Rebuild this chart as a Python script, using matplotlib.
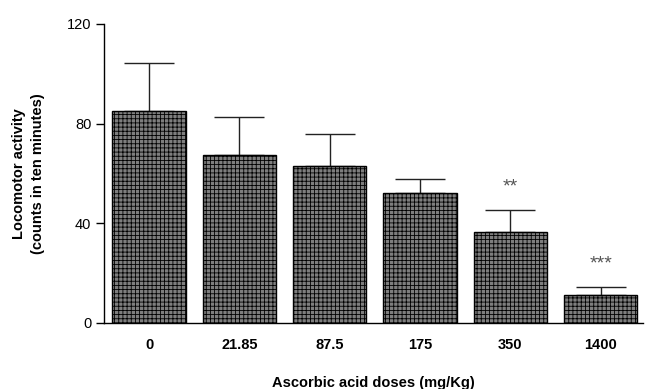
import matplotlib.pyplot as plt

doses = ['0', '21.85', '87.5', '175', '350', '1400']
activity = [85, 67.2, 62.9, 52.2, 36.3, 11]
sem = [19.4, 15.4, 12.8, 5.5, 8.8, 3.2]
stars = ['', '', '', '', '**', '***']


def main():
    plt.rcParams['font.family'] = ['Liberation Sans', 'DejaVu Sans']
    plt.rcParams['hatch.color'] = '#444444'
    plt.rcParams['hatch.linewidth'] = 0.6

    fig = plt.figure(figsize=(6.45, 3.89), dpi=100)
    ax = fig.add_axes([0.161, 0.1704, 0.836, 0.768])

    x = list(range(len(doses)))
    ax.bar(x, activity, width=0.81, color='#7e7e7e', edgecolor='black',
           linewidth=1.0, hatch='++++', zorder=2)
    ax.errorbar(x, activity, yerr=[[0] * len(sem), sem], fmt='none',
                ecolor='#222222', elinewidth=1.0, capsize=18, capthick=1.0, zorder=1)

    for xi, v, e, s in zip(x, activity, sem, stars):
        if s:
            ax.text(xi, v + e + 9.5, s, ha='center', va='center', fontsize=14,
                    color='#555555')

    ax.set_xlim(-0.5, 5.47)
    ax.set_ylim(0, 120)
    ax.set_yticks([0, 40, 80, 120])
    ax.set_xticks(x)
    ax.set_xticklabels(doses, fontweight='bold')
    ax.tick_params(axis='x', length=0, pad=11, labelsize=10.5)
    ax.tick_params(axis='y', length=6, width=1, pad=3, labelsize=10.5, direction='out')

    ax.spines['top'].set_visible(False)
    ax.spines['right'].set_visible(False)
    ax.spines['left'].set_linewidth(1.0)
    ax.spines['bottom'].set_linewidth(1.0)

    ax.set_xlabel('Ascorbic acid doses (mg/Kg)', fontweight='bold', fontsize=10.5,
                  labelpad=17)
    ax.set_ylabel('Locomotor activity\n(counts in ten minutes)', fontweight='bold',
                  fontsize=10.5, labelpad=16, linespacing=1.45)

    fig.savefig('out.png', dpi=100)


if __name__ == "__main__":
    main()
